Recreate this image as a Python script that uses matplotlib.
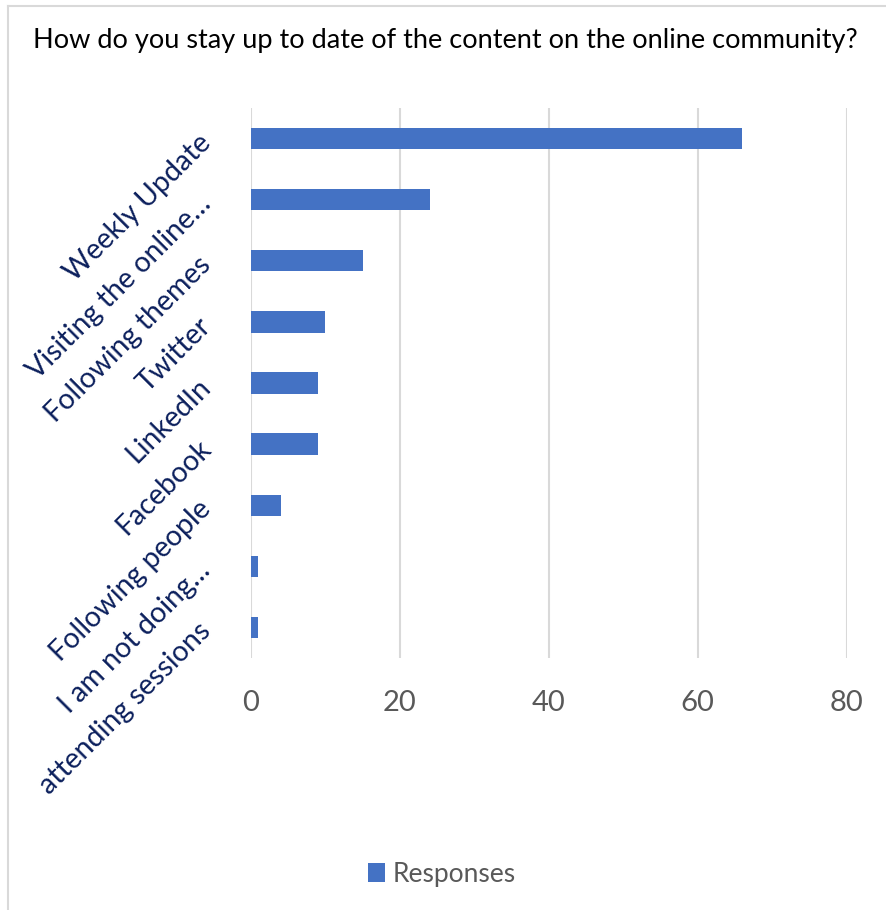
import matplotlib.pyplot as plt

plt.rcParams['font.family'] = ['Lato', 'DejaVu Sans']

# survey answers, top to bottom
categories = ['Weekly Update', 'Visiting the online\u2026', 'Following themes',
              'Twitter', 'LinkedIn', 'Facebook', 'Following people',
              'I am not doing\u2026', 'attending sessions']
responses = [66, 24, 15, 10, 9, 9, 4, 1, 1]
x_ticks = [0, 20, 40, 60, 80]

bar_color = '#4472C4'
label_color = '#0B1F5C'
tick_color = '#595959'
grid_color = '#D9D9D9'

fig = plt.figure(figsize=(8.86, 9.10), dpi=100)
ax = fig.add_axes([0.2833, 0.2769, 0.6723, 0.6044])

y = list(range(len(categories)))
ax.barh(y, responses, height=0.35, color=bar_color, label='Responses', zorder=3)

ax.set_ylim(len(categories) - 0.5, -0.5)
ax.set_xlim(0, 80)
ax.set_xticks(x_ticks)
ax.set_xticklabels([str(t) for t in x_ticks], fontsize=21, color=tick_color)
ax.tick_params(axis='x', length=0, pad=23)

ax.set_yticks(y)
ax.set_yticklabels(categories, rotation=45, rotation_mode='anchor',
                   ha='right', va='center', fontsize=20.5, color=label_color)
ax.tick_params(axis='y', length=0, pad=32)

ax.grid(axis='x', color=grid_color, linewidth=1.5, zorder=0)
for s in ax.spines.values():
    s.set_visible(False)

fig.text(0.5 + 0.003, 0.955, 'How do you stay up to date of the content on the online community?',
         ha='center', va='center', fontsize=19.5, color='black')

leg = fig.legend(loc='center', bbox_to_anchor=(0.499, 0.0395), frameon=False,
                 fontsize=19, handlelength=0.65, handleheight=0.7, handletextpad=0.3)
for t in leg.get_texts():
    t.set_color(tick_color)

# outer chart frame (only left and top edges fall inside the image)
fig.add_artist(plt.Line2D([0.009, 0.009], [0, 0.9935], transform=fig.transFigure,
                          color=grid_color, linewidth=1.5))
fig.add_artist(plt.Line2D([0.009, 1.0], [0.9935, 0.9935], transform=fig.transFigure,
                          color=grid_color, linewidth=1.5))

fig.savefig('out.png', dpi=100)
